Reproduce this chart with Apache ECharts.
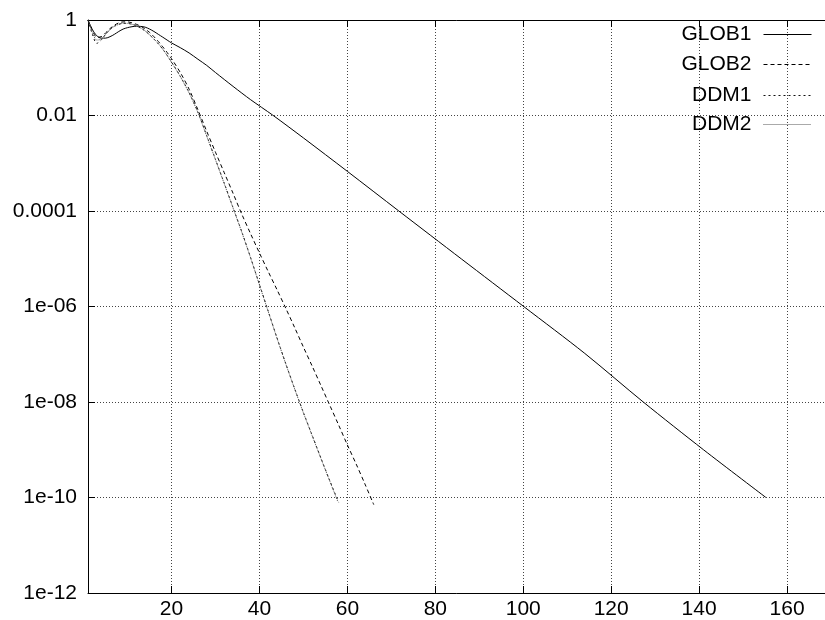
<!DOCTYPE html>
<html>
<head>
<meta charset="utf-8">
<script src="https://cdn.jsdelivr.net/npm/echarts@6/dist/echarts.min.js"></script>
<style>
html,body{margin:0;padding:0;background:#fff;}
#c{width:825px;height:620px;}
</style>
</head>
<body>
<div id="c"></div>
<script>
// ---- data ----
const seriesNames = ['GLOB1', 'GLOB2', 'DDM1', 'DDM2'];

const glob1X = [1,2,3,4,5,6,7,8,9,10,11,12,13,14,15,16,17,18,19,20,22,24,26,28,30,34,38,43,50,60,71.7,86,100.1,114,127.3,141,155.2];
const glob1Y = [1,0.631,0.468,0.417,0.417,0.447,0.501,0.575,0.646,0.692,0.724,0.741,0.733,0.708,0.646,0.575,0.501,0.437,0.380,0.331,0.263,0.204,0.151,0.112,0.0794,0.0407,0.0214,0.0102,0.00339,0.000676,1.0e-4,9.8e-6,1.0e-6,1.04e-7,1.0e-8,1.0e-9,1.0e-10];

const glob2X = [1,2,3,4,5,6,7,8,9,10,11,12,13,14,15,16,17,18,19,20,22,24,26,28,30,32,34,36,38,40,42,44,46,48,50,52,54,56,58,60,62,64,66];
const glob2Y = [1,0.603,0.437,0.447,0.537,0.661,0.776,0.871,0.912,0.912,0.871,0.813,0.741,0.646,0.550,0.447,0.355,0.275,0.209,0.155,0.0794,0.0355,0.0132,0.00468,0.0017,6.31e-4,2.34e-4,8.51e-5,3.31e-5,1.32e-5,5.37e-6,2.24e-6,9.12e-7,3.63e-7,1.41e-7,5.62e-8,2.19e-8,8.51e-9,3.31e-9,1.26e-9,5.01e-10,1.91e-10,7.08e-11];

const ddm1X = [1,2,3,4,5,6,7,8,9,10,11,12,13,14,15,16,17,18,19,20,22,24,26,28,30,32,34,36,38,40,42,44,46,48,50,52,54,56,58];
const ddm1Y = [1,0.501,0.324,0.380,0.501,0.631,0.741,0.813,0.851,0.851,0.813,0.759,0.676,0.589,0.490,0.398,0.316,0.245,0.182,0.132,0.0661,0.0302,0.0117,0.0038,0.0012,3.8e-4,1.17e-4,3.63e-5,1.05e-5,2.88e-6,7.94e-7,2.19e-7,6.31e-8,1.91e-8,6.03e-9,2.0e-9,6.61e-10,2.24e-10,7.94e-11];

const ddm2X = [1,2,3,4,5,6,7,8,9,10,11,12,13,14,15,16,17,18,19,20,22,24,26,28,30,32,34,36,38,40,42,44,46,48,50,52,54,56,57.8];
const ddm2Y = [1,0.55,0.38,0.398,0.50,0.63,0.74,0.81,0.85,0.85,0.81,0.76,0.68,0.59,0.49,0.40,0.32,0.245,0.18,0.13,0.0650,0.0295,0.0115,0.0037,0.00118,3.7e-4,1.15e-4,3.55e-5,1.03e-5,2.82e-6,7.8e-7,2.15e-7,6.2e-8,1.88e-8,5.9e-9,1.95e-9,6.5e-10,2.2e-10,8.3e-11];

const xTicks = [20,40,60,80,100,120,140,160];
const yTickValues = [1,1e-2,1e-4,1e-6,1e-8,1e-10,1e-12];
const yTickLabels = ['1','0.01','0.0001','1e-06','1e-08','1e-10','1e-12'];

// ---- chart ----
const FONT = '"Liberation Sans", Arial, Helvetica, sans-serif';
const FS = 21;
function pairs(xs, ys){ return xs.map((x,i)=>[x, ys[i]]); }
function yLabel(v){
  let best = 0, bd = Infinity;
  yTickValues.forEach((t,i)=>{ const d = Math.abs(Math.log10(v) - Math.log10(t)); if (d < bd){bd=d; best=i;} });
  return yTickLabels[best];
}

const styles = [
  {color:'#000', type:'solid'},
  {color:'#000', type:[4,3]},
  {color:'#111', type:[2,3]},
  {color:'#555', type:[1,1]}
];
const datas = [pairs(glob1X,glob1Y), pairs(glob2X,glob2Y), pairs(ddm1X,ddm1Y), pairs(ddm2X,ddm2Y)];
const legendTops = [24, 54, 85, 114];

const chart = echarts.init(document.getElementById('c'), null, {renderer:'canvas'});
chart.setOption({
  animation: false,
  backgroundColor: '#fff',
  grid: {left: 88, top: 20, bottom: 27, right: -6, outerBoundsMode: 'none', containLabel: false},
  legend: seriesNames.map((n,i)=>({
    data: [n], right: 13, top: legendTops[i], orient: 'vertical', align: 'right',
    padding: 0, itemWidth: 48, itemHeight: 14, selectedMode: false,
    itemStyle: {opacity: 0, borderWidth: 0},
    lineStyle: {width: 1},
    textStyle: {fontSize: FS, fontFamily: FONT, color: '#000', padding: [0, 7, 0, 0]}
  })),
  xAxis: [{
    type: 'value', min: 1, max: 170, position: 'bottom',
    axisLine: {show: true, onZero: false, lineStyle: {color: '#000', width: 1}},
    axisTick: {show: true, inside: true, length: 7, customValues: xTicks, lineStyle: {color: '#000', width: 1}},
    axisLabel: {show: true, customValues: xTicks, color: '#000', fontSize: FS, fontFamily: FONT, margin: 6},
    splitLine: {show: true, lineStyle: {color: '#444', width: 1, type: [1,2]}}
  },{
    type: 'value', min: 1, max: 170, position: 'top',
    axisLine: {show: true, onZero: false, lineStyle: {color: '#000', width: 1}},
    axisTick: {show: true, inside: true, length: 7, customValues: xTicks, lineStyle: {color: '#000', width: 1}},
    axisLabel: {show: false},
    splitLine: {show: false}
  }],
  yAxis: [{
    type: 'log', logBase: 100, min: 1e-12, max: 1, position: 'left',
    axisLine: {show: true, onZero: false, lineStyle: {color: '#000', width: 1}},
    axisTick: {show: true, inside: true, length: 7, lineStyle: {color: '#000', width: 1}},
    axisLabel: {show: true, color: '#000', fontSize: FS, fontFamily: FONT, margin: 11, formatter: yLabel},
    splitLine: {show: true, lineStyle: {color: '#444', width: 1, type: [1,2]}},
    minorTick: {show: false}
  },{
    type: 'log', logBase: 10, min: 1e-12, max: 1, position: 'left',
    axisLine: {show: false},
    axisTick: {show: true, inside: true, length: 4, lineStyle: {color: '#000', width: 1}},
    axisLabel: {show: false},
    splitLine: {show: false}
  }],
  series: seriesNames.map((n,i)=>({
    name: n, type: 'line', data: datas[i], xAxisIndex: 0, yAxisIndex: 0,
    symbol: 'none', smooth: 0.3, clip: true,
    lineStyle: {color: styles[i].color, width: 1, type: styles[i].type},
    itemStyle: {color: styles[i].color}
  }))
});
</script>
</body>
</html>
